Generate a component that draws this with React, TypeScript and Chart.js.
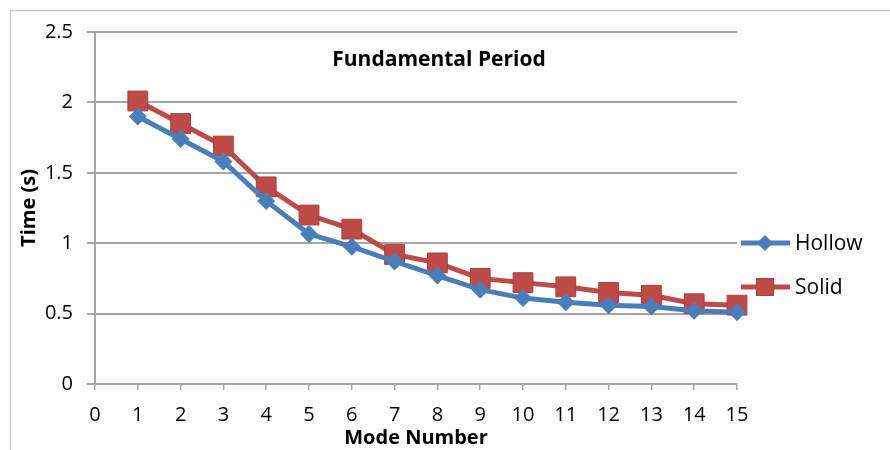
import React, { useEffect, useRef } from "react";
import { Chart, registerables } from "chart.js";

Chart.register(...registerables);

const modes = [1, 2, 3, 4, 5, 6, 7, 8, 9, 10, 11, 12, 13, 14, 15];
const hollow = [1.9, 1.74, 1.58, 1.3, 1.065, 0.975, 0.87, 0.77, 0.67, 0.61, 0.58, 0.56, 0.55, 0.52, 0.51];
const solid = [2.01, 1.85, 1.69, 1.4, 1.2, 1.1, 0.92, 0.86, 0.75, 0.72, 0.69, 0.65, 0.63, 0.57, 0.56];
const seriesNames = ["Hollow", "Solid"];
const chartTitle = "Fundamental Period";
const xTitle = "Mode Number";
const yTitle = "Time (s)";

const BLUE = "#4a7ebb";
const RED = "#be4b48";
const GRID = "#a6a6a6";
const FONT = "'Open Sans', sans-serif";

export default function App() {
  const ref = useRef<HTMLCanvasElement>(null);
  useEffect(() => {
    const ctx = ref.current!.getContext("2d")!;
    const framePlugin = {
      id: "frame",
      beforeDraw(chart: any) {
        const c = chart.ctx;
        c.save();
        c.fillStyle = "#fff";
        c.fillRect(0, 0, chart.width, chart.height);
        c.strokeStyle = "#c8c8c8";
        c.lineWidth = 1.5;
        c.beginPath();
        c.moveTo(10.5, chart.height);
        c.lineTo(10.5, 10.5);
        c.lineTo(chart.width, 10.5);
        c.stroke();
        c.restore();
      },
      afterDraw(chart: any) {
        const c = chart.ctx;
        c.save();
        c.fillStyle = "#000";
        c.font = `bold 21px ${FONT}`;
        c.textAlign = "center";
        c.textBaseline = "middle";
        c.fillText(chartTitle, 439, 60);
        // legend
        const items = [
          { name: seriesNames[0], color: BLUE, y: 243, style: "diamond" },
          { name: seriesNames[1], color: RED, y: 287, style: "square" },
        ];
        items.forEach((it) => {
          c.strokeStyle = it.color;
          c.lineWidth = 5;
          c.beginPath();
          c.moveTo(741, it.y);
          c.lineTo(790, it.y);
          c.stroke();
          c.fillStyle = it.color;
          if (it.style === "diamond") {
            c.beginPath();
            c.moveTo(765, it.y - 8);
            c.lineTo(773, it.y);
            c.lineTo(765, it.y + 8);
            c.lineTo(757, it.y);
            c.closePath();
            c.fill();
          } else {
            c.fillRect(756, it.y - 9, 18, 18);
            c.strokeStyle = "#a8403d";
            c.lineWidth = 1;
            c.strokeRect(756.5, it.y - 8.5, 17, 17);
          }
          c.fillStyle = "#000";
          c.font = `21px ${FONT}`;
          c.textAlign = "left";
          c.fillText(it.name, 795, it.y + 1);
        });
        c.restore();
      },
    };
    const chart = new Chart(ctx, {
      type: "line",
      data: {
        datasets: [
          {
            label: seriesNames[0],
            data: modes.map((m, i) => ({ x: m, y: hollow[i] })),
            borderColor: BLUE,
            backgroundColor: BLUE,
            borderWidth: 5,
            pointStyle: "rectRot",
            pointRadius: 9,
            pointBorderWidth: 0,
            pointBackgroundColor: BLUE,
            tension: 0,
            clip: false,
          },
          {
            label: seriesNames[1],
            data: modes.map((m, i) => ({ x: m, y: solid[i] })),
            borderColor: RED,
            backgroundColor: RED,
            borderWidth: 5,
            pointStyle: "rect",
            pointRadius: 14,
            pointBorderWidth: 1,
            pointBorderColor: "#a8403d",
            pointBackgroundColor: RED,
            tension: 0,
            clip: false,
          },
        ],
      },
      plugins: [framePlugin],
      options: {
        animation: false,
        responsive: false,
        maintainAspectRatio: false,
        layout: { padding: { left: 0, top: 32, right: 153, bottom: 0 } },
        plugins: { legend: { display: false }, tooltip: { enabled: false }, title: { display: false } },
        scales: {
          x: {
            type: "linear",
            min: 0,
            max: 15,
            afterFit(scale: any) {
              scale.height = 66;
            },
            ticks: { stepSize: 1, color: "#000", font: { family: FONT, size: 20 }, padding: 13, maxRotation: 0 },
            grid: { drawOnChartArea: false, color: GRID, tickLength: 6, lineWidth: 1.5 },
            border: { color: GRID, width: 2 },
            title: { display: true, text: xTitle, color: "#000", font: { family: FONT, size: 20, weight: "bold" }, padding: { top: 0, bottom: 0 } },
          },
          y: {
            min: 0,
            max: 2.5,
            afterFit(scale: any) {
              scale.width = 95;
            },
            ticks: {
              stepSize: 0.5,
              color: "#000",
              font: { family: FONT, size: 20 },
              padding: 14,
              callback: (v: any) => String(Number(v)),
            },
            grid: { color: GRID, tickLength: 8, lineWidth: 2 },
            border: { color: GRID, width: 2 },
            title: { display: true, text: yTitle, color: "#000", font: { family: FONT, size: 20, weight: "bold" }, padding: { top: 17, bottom: 0 } },
          },
        },
      },
    });
    return () => chart.destroy();
  }, []);
  return (
    <div style={{ position: "fixed", left: 0, top: 0, width: 890, height: 450 }}>
      <canvas ref={ref} width={890} height={450} style={{ width: 890, height: 450, display: "block" }} />
    </div>
  );
}
